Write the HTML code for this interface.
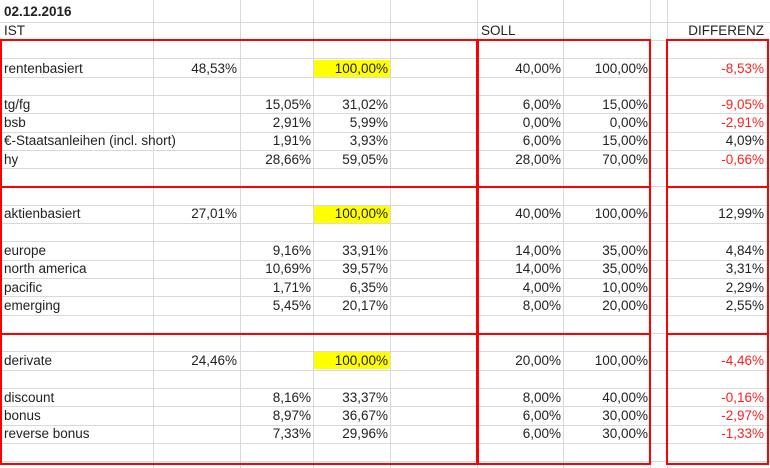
<!DOCTYPE html><html><head><meta charset="utf-8"><style>
body{margin:0;width:770px;height:468px;overflow:hidden;background:#fff;font-family:"Liberation Sans",Arial,sans-serif;font-size:13.5px;color:#222}
.v{position:absolute;top:0;height:468px;width:1px;background:#d9d9d9}
.h{position:absolute;left:0;width:770px;height:1px;background:#d9d9d9}
.r{position:absolute;left:0;width:770px;height:18px;line-height:18px}
.r span{position:absolute;white-space:nowrap}
.a{left:4px}.b{right:533px}.c{right:459px}.d{right:382px}.f{right:209px}.g{right:122px}.i{right:6px}
.red{color:#ff2020}
.y{position:absolute;left:314px;width:76px;height:17px;background:#ffff00}
.box{position:absolute;border:2px solid #ff0000;box-sizing:border-box}
.sep{position:absolute;height:2px;background:#ff0000}
</style></head><body>
<div class="v" style="left:153px"></div><div class="v" style="left:240px"></div><div class="v" style="left:313px"></div><div class="v" style="left:390px"></div><div class="v" style="left:477px"></div><div class="v" style="left:563px"></div><div class="v" style="left:650px"></div><div class="v" style="left:667px"></div>
<div class="h" style="top:22px"></div><div class="h" style="top:40px"></div><div class="h" style="top:58px"></div><div class="h" style="top:77px"></div><div class="h" style="top:95px"></div><div class="h" style="top:113px"></div><div class="h" style="top:132px"></div><div class="h" style="top:150px"></div><div class="h" style="top:168px"></div><div class="h" style="top:186px"></div><div class="h" style="top:205px"></div><div class="h" style="top:223px"></div><div class="h" style="top:241px"></div><div class="h" style="top:260px"></div><div class="h" style="top:278px"></div><div class="h" style="top:296px"></div><div class="h" style="top:315px"></div><div class="h" style="top:333px"></div><div class="h" style="top:351px"></div><div class="h" style="top:370px"></div><div class="h" style="top:388px"></div><div class="h" style="top:406px"></div><div class="h" style="top:425px"></div><div class="h" style="top:443px"></div><div class="h" style="top:461px"></div>
<div class="y" style="top:60px"></div><div class="y" style="top:206px"></div><div class="y" style="top:352px"></div>
<div class="box" style="left:0;top:39px;width:479px;height:426px"></div>
<div class="box" style="left:476px;top:39px;width:175px;height:426px"></div>
<div class="box" style="left:666px;top:39px;width:103px;height:426px"></div>
<div class="sep" style="left:0;top:186px;width:651px"></div><div class="sep" style="left:666px;top:186px;width:103px"></div>
<div class="sep" style="left:0;top:333px;width:651px"></div><div class="sep" style="left:666px;top:333px;width:103px"></div>
<div class="r" style="top:3px;font-weight:bold"><span class="a">02.12.2016</span></div>
<div class="r" style="top:22px"><span class="a">IST</span><span style="left:481px">SOLL</span><span class="i">DIFFERENZ</span></div>
<div class="r" style="top:60px"><span class="a">rentenbasiert</span><span class="b">48,53%</span><span class="d">100,00%</span><span class="f">40,00%</span><span class="g">100,00%</span><span class="i red">-8,53%</span></div>
<div class="r" style="top:96px"><span class="a">tg/fg</span><span class="c">15,05%</span><span class="d">31,02%</span><span class="f">6,00%</span><span class="g">15,00%</span><span class="i red">-9,05%</span></div>
<div class="r" style="top:114px"><span class="a">bsb</span><span class="c">2,91%</span><span class="d">5,99%</span><span class="f">0,00%</span><span class="g">0,00%</span><span class="i red">-2,91%</span></div>
<div class="r" style="top:132px"><span class="a">€-Staatsanleihen (incl. short)</span><span class="c">1,91%</span><span class="d">3,93%</span><span class="f">6,00%</span><span class="g">15,00%</span><span class="i">4,09%</span></div>
<div class="r" style="top:151px"><span class="a">hy</span><span class="c">28,66%</span><span class="d">59,05%</span><span class="f">28,00%</span><span class="g">70,00%</span><span class="i red">-0,66%</span></div>
<div class="r" style="top:205px"><span class="a">aktienbasiert</span><span class="b">27,01%</span><span class="d">100,00%</span><span class="f">40,00%</span><span class="g">100,00%</span><span class="i">12,99%</span></div>
<div class="r" style="top:242px"><span class="a">europe</span><span class="c">9,16%</span><span class="d">33,91%</span><span class="f">14,00%</span><span class="g">35,00%</span><span class="i">4,84%</span></div>
<div class="r" style="top:260px"><span class="a">north america</span><span class="c">10,69%</span><span class="d">39,57%</span><span class="f">14,00%</span><span class="g">35,00%</span><span class="i">3,31%</span></div>
<div class="r" style="top:279px"><span class="a">pacific</span><span class="c">1,71%</span><span class="d">6,35%</span><span class="f">4,00%</span><span class="g">10,00%</span><span class="i">2,29%</span></div>
<div class="r" style="top:297px"><span class="a">emerging</span><span class="c">5,45%</span><span class="d">20,17%</span><span class="f">8,00%</span><span class="g">20,00%</span><span class="i">2,55%</span></div>
<div class="r" style="top:352px"><span class="a">derivate</span><span class="b">24,46%</span><span class="d">100,00%</span><span class="f">20,00%</span><span class="g">100,00%</span><span class="i red">-4,46%</span></div>
<div class="r" style="top:389px"><span class="a">discount</span><span class="c">8,16%</span><span class="d">33,37%</span><span class="f">8,00%</span><span class="g">40,00%</span><span class="i red">-0,16%</span></div>
<div class="r" style="top:407px"><span class="a">bonus</span><span class="c">8,97%</span><span class="d">36,67%</span><span class="f">6,00%</span><span class="g">30,00%</span><span class="i red">-2,97%</span></div>
<div class="r" style="top:425px"><span class="a">reverse bonus</span><span class="c">7,33%</span><span class="d">29,96%</span><span class="f">6,00%</span><span class="g">30,00%</span><span class="i red">-1,33%</span></div>
</body></html>
